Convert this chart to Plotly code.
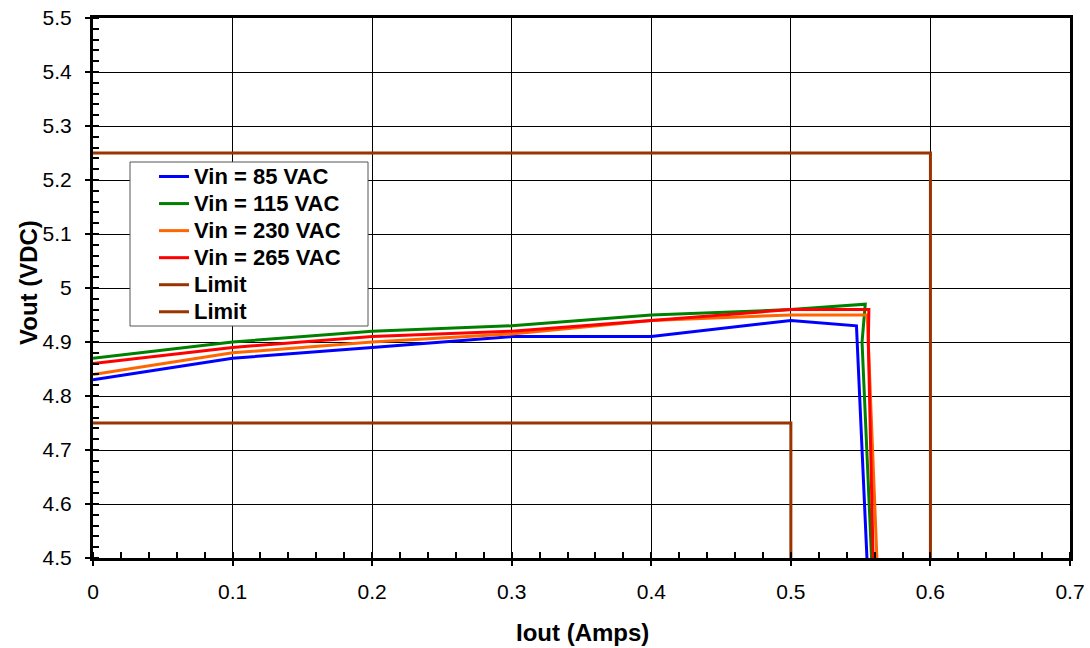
import plotly.graph_objects as go

# Data
x_85 = [0, 0.1, 0.2, 0.3, 0.4, 0.5, 0.547, 0.5547]
y_85 = [4.83, 4.87, 4.89, 4.91, 4.91, 4.94, 4.93, 4.49]

x_115 = [0, 0.1, 0.2, 0.3, 0.4, 0.5, 0.5533, 0.551, 0.558]
y_115 = [4.87, 4.90, 4.92, 4.93, 4.95, 4.96, 4.97, 4.90, 4.49]

x_230 = [0, 0.1, 0.2, 0.3, 0.4, 0.5, 0.5547, 0.5578, 0.5618]
y_230 = [4.84, 4.88, 4.90, 4.915, 4.94, 4.95, 4.95, 4.76, 4.49]

x_265 = [0, 0.1, 0.2, 0.3, 0.4, 0.5, 0.5559, 0.5555, 0.559]
y_265 = [4.86, 4.89, 4.91, 4.92, 4.94, 4.96, 4.96, 4.90, 4.49]

x_lim_hi = [0, 0.6, 0.6]
y_lim_hi = [5.25, 5.25, 4.5]
x_lim_lo = [0, 0.5, 0.5]
y_lim_lo = [4.75, 4.75, 4.5]

x_ticks = [0, 0.1, 0.2, 0.3, 0.4, 0.5, 0.6, 0.7]
x_tick_text = ["0", "0.1", "0.2", "0.3", "0.4", "0.5", "0.6", "0.7"]
y_ticks = [4.5, 4.6, 4.7, 4.8, 4.9, 5.0, 5.1, 5.2, 5.3, 5.4, 5.5]
y_tick_text = ["4.5", "4.6", "4.7", "4.8", "4.9", "5", "5.1", "5.2", "5.3", "5.4", "5.5"]

series_names = ["Vin = 85 VAC", "Vin = 115 VAC", "Vin = 230 VAC", "Vin = 265 VAC", "Limit", "Limit"]
series_x = [x_85, x_115, x_230, x_265, x_lim_hi, x_lim_lo]
series_y = [y_85, y_115, y_230, y_265, y_lim_hi, y_lim_lo]
series_colors = ["#0000FF", "#008000", "#FF6600", "#FF0000", "#993300", "#993300"]

# Body margin is removed in the page (post_script), so figure coords = screen coords
W, H = 1090, 648
ML, MR, MT, MB = 93, 20, 18, 90
PW, PH = W - ML - MR, H - MT - MB

def px_x(p):  # screen px -> paper x
    return (p - ML) / PW

def px_y(p):  # screen px -> paper y
    return (H - MB - p) / PH

fig = go.Figure()
for name, xs, ys, col in zip(series_names, series_x, series_y, series_colors):
    fig.add_trace(go.Scatter(x=xs, y=ys, mode="lines",
                             name='<span style="font-size:22px">' + name + '</span>',
                             line=dict(color=col, width=3)))

font_family = "Liberation Sans, Arial, sans-serif"
axis_common = dict(
    showline=True, linecolor="black", linewidth=3, mirror=True,
    showgrid=True, gridcolor="black", gridwidth=1,
    zeroline=False, automargin=False, ticklabeloverflow="allow",
    ticks="outside", ticklen=5, tickwidth=2, tickcolor="black",
    tickfont=dict(family=font_family, size=21, color="black"),
)

fig.update_xaxes(
    range=[0, 0.7], tickvals=x_ticks, ticktext=x_tick_text,
    minor=dict(ticks="inside", dtick=0.02, ticklen=6, tickwidth=2, tickcolor="black", showgrid=False),
    ticklabelstandoff=8,
    **axis_common,
)
fig.update_yaxes(
    range=[4.5, 5.5], tickvals=y_ticks, ticktext=y_tick_text,
    minor=dict(ticks="inside", dtick=0.02, ticklen=6, tickwidth=2, tickcolor="black", showgrid=False),
    ticklabelstandoff=9,
    **axis_common,
)

# Legend frame (white box with thin border)
fig.add_shape(type="rect", xref="paper", yref="paper",
              x0=px_x(130), x1=px_x(368), y0=px_y(326), y1=px_y(162),
              fillcolor="white", line=dict(color="#555555", width=1), layer="above")

fig.add_annotation(text="<b>Iout (Amps)</b>", xref="paper", yref="paper",
                   x=px_x(582), y=px_y(632), xanchor="center", yanchor="middle",
                   showarrow=False, font=dict(family=font_family, size=24, color="black"))
fig.add_annotation(text="<b>Vout (VDC)</b>", xref="paper", yref="paper",
                   x=px_x(28), y=px_y(283), xanchor="center", yanchor="middle",
                   textangle=-90, showarrow=False,
                   font=dict(family=font_family, size=24, color="black"))

fig.update_layout(
    width=W, height=H,
    margin=dict(l=ML, r=MR, t=MT, b=MB),
    paper_bgcolor="white", plot_bgcolor="white",
    font=dict(family=font_family, color="black"),
    legend=dict(
        x=px_x(154), y=px_y(158), xanchor="left", yanchor="top",
        bgcolor="rgba(0,0,0,0)", borderwidth=0,
        font=dict(family=font_family, size=18.5, color="black", weight="bold"),
        tracegroupgap=0,
    ),
    showlegend=True,
)

fig.write_html("out.html",
               config={"displayModeBar": False},
               post_script="document.body.style.margin='0';document.body.style.overflow='hidden';")
